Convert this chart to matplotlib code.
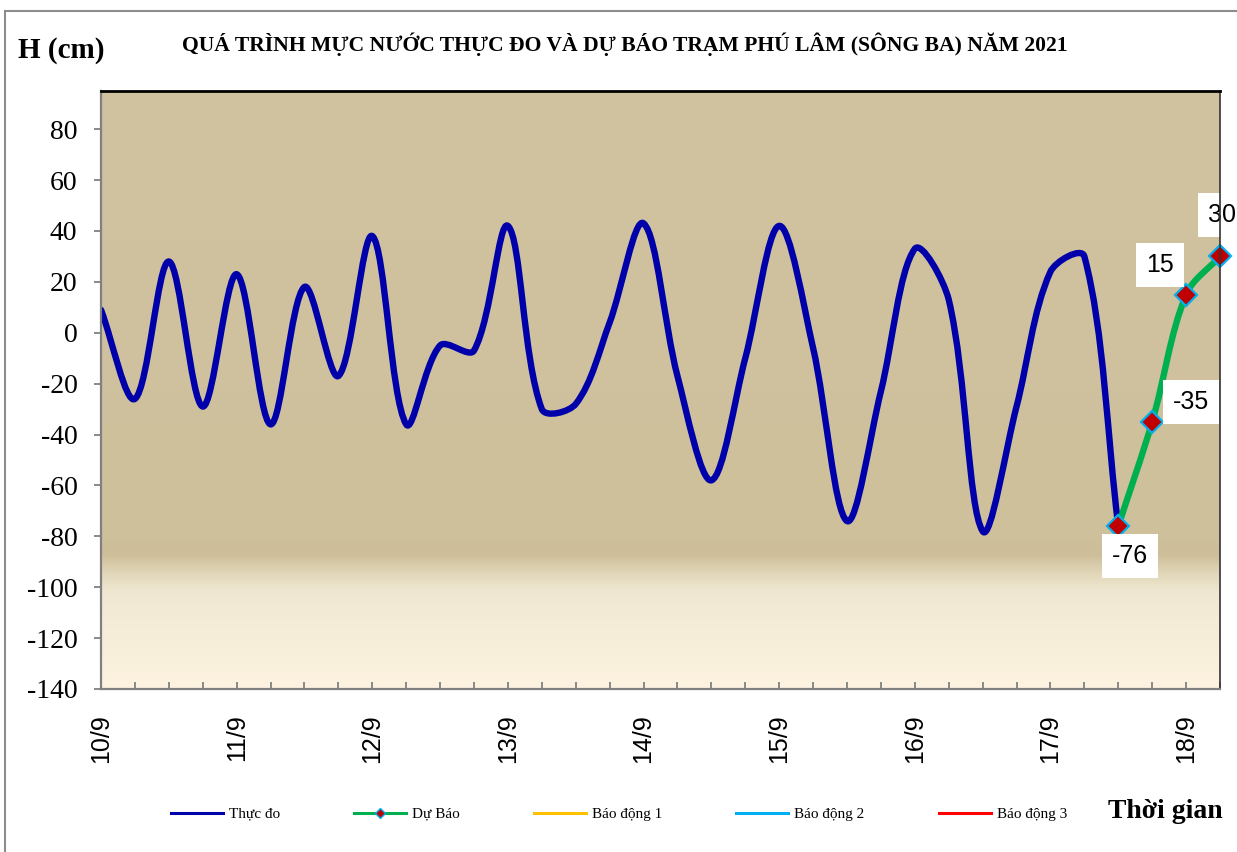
import matplotlib
matplotlib.use("Agg")
import matplotlib.pyplot as plt
import numpy as np
from matplotlib.path import Path
from matplotlib.patches import PathPatch, Rectangle
from matplotlib.lines import Line2D
from matplotlib.colors import LinearSegmentedColormap

# ---------------- data ----------------
day_labels = ["10/9", "11/9", "12/9", "13/9", "14/9", "15/9", "16/9", "17/9", "18/9"]
steps_per_day = 4  # 6-hourly values

observed = [9, -26, 28, -29, 23, -36, 18, -17,
            38, -36, -5, -7, 42, -30, -28, 4,
            43, -17, -58, -10, 42, -6, -74, -23,
            33, 13, -78, -29, 24, 30, -76]
forecast = [-76, -35, 15, 30]
forecast_start = 30

title = "QUÁ TRÌNH MỰC NƯỚC THỰC ĐO VÀ DỰ BÁO TRẠM PHÚ LÂM (SÔNG BA) NĂM 2021"
series_names = ["Thực đo", "Dự Báo", "Báo động 1", "Báo động 2", "Báo động 3"]

# ---------------- helpers ----------------
def smooth_path(ax, xs, ys):
    """Spreadsheet-style smoothed line: cubic Bezier segments through the
    points, tangents weighted by the on-screen chord lengths."""
    pts = ax.transData.transform(np.column_stack([xs, ys]).astype(float))
    n = len(pts)
    out_c, in_c = [], []
    for i in range(n):
        prev = pts[max(i - 1, 0)]
        nxt = pts[min(i + 1, n - 1)]
        l1 = np.hypot(*(pts[i] - prev))
        l2 = np.hypot(*(nxt - pts[i]))
        d = nxt - prev
        s = l1 + l2 if (l1 + l2) > 0 else 1.0
        out_c.append(pts[i] + d * (l2 / s) / 3.0)
        in_c.append(pts[i] - d * (l1 / s) / 3.0)
    verts = [pts[0]]
    codes = [Path.MOVETO]
    for i in range(n - 1):
        verts += [out_c[i], in_c[i + 1], pts[i + 1]]
        codes += [Path.CURVE4] * 3
    verts = ax.transData.inverted().transform(np.array(verts))
    return Path(verts, codes)

# ---------------- figure ----------------
W, H = 1237, 852
fig = plt.figure(figsize=(W / 100, H / 100), dpi=100)
fig.patch.set_facecolor("white")

# outer chart border
fig.patches.append(Rectangle((5 / W, -0.1), 1.2, 1 - 11 / H + 0.1,
                             transform=fig.transFigure, fill=False,
                             edgecolor="#8c8c8c", lw=1.5, clip_on=False))

L, R, T, B = 101, 1220, 91, 689
ax = fig.add_axes([L / W, 1 - B / H, (R - L) / W, (B - T) / H])

ymin, ymax = -140, 95
n_total = forecast_start + len(forecast) - 1
ax.set_xlim(0, n_total)
ax.set_ylim(ymin, ymax)

# gradient background
stops = [(0.0, "#FDF3E0"), (0.115, "#F4ECD7"), (0.162, "#EFE7D1"),
         (0.191, "#E2D7BA"), (0.224, "#CDBE99"), (0.249, "#CFC09C"),
         (1.0, "#D1C3A0")]
cmap = LinearSegmentedColormap.from_list("bg", stops)
grad = np.linspace(0, 1, 512).reshape(-1, 1)
ax.imshow(grad, aspect="auto", cmap=cmap, origin="lower",
          extent=[0, 1, 0, 1], transform=ax.transAxes, zorder=0)
ax.set_xlim(0, n_total)
ax.set_ylim(ymin, ymax)

# observed line
x_obs = np.arange(len(observed))
ax.add_patch(PathPatch(smooth_path(ax, x_obs, observed), fill=False,
                       edgecolor="#0000AA", lw=4.6, capstyle="round",
                       joinstyle="round", zorder=3))

# forecast line
x_fc = np.arange(forecast_start, forecast_start + len(forecast))
ax.add_patch(PathPatch(smooth_path(ax, x_fc, forecast), fill=False,
                       edgecolor="#00B050", lw=4.6, capstyle="round",
                       joinstyle="round", zorder=4))
ax.plot(x_fc, forecast, linestyle="none", marker="D", markersize=11.5,
        markerfacecolor="#C00000", markeredgecolor="#00B0F0",
        markeredgewidth=1.6, zorder=5, clip_on=False)

# data labels
label_offsets = [(8.6, -21.5), (28, 14), (-18.7, 21.6), (1.4, 29.5)]
for xv, yv, off in zip(x_fc, forecast, label_offsets):
    ax.annotate(f"{yv}", (xv, yv), xytext=off, textcoords="offset points",
                ha="center", va="center", fontsize=18,
                family="Liberation Sans", color="black", zorder=6,
                bbox=dict(boxstyle="square,pad=0.4", fc="white", ec="none"),
                annotation_clip=False)

# axes styling
for side in ["left", "bottom"]:
    ax.spines[side].set_color("#808080")
    ax.spines[side].set_linewidth(1.6)
ax.spines["top"].set_color("black")
ax.spines["top"].set_linewidth(2.0)
ax.spines["right"].set_color("#333333")
ax.spines["right"].set_linewidth(1.2)
for s in ax.spines.values():
    s.set_zorder(7)

ax.set_yticks(np.arange(-140, 81, 20))
ax.set_yticklabels([str(v) for v in range(-140, 81, 20)],
                   family="Liberation Serif", fontsize=20)
ax.tick_params(axis="y", direction="out", length=5, width=1.3,
               color="#808080", pad=12)

major_x = np.arange(0, len(day_labels)) * steps_per_day
ax.set_xticks(major_x)
ax.set_xticklabels(day_labels, rotation=90, family="Liberation Sans",
                   fontsize=18, va="top", ha="center")
ax.set_xticks(np.arange(0, n_total + 1), minor=True)
ax.tick_params(axis="x", which="both", direction="in", length=5,
               width=1.3, color="#808080", pad=18)

# titles
fig.text(625 / W, 1 - 44 / H, title, ha="center", va="center",
         family="Liberation Serif", fontweight="bold", fontsize=15.6)
fig.text(18 / W, 1 - 50 / H, "H (cm)", ha="left", va="center",
         family="Liberation Serif", fontweight="bold", fontsize=21)
fig.text(1165 / W, 1 - 812 / H, "Thời gian", ha="center", va="center",
         family="Liberation Serif", fontweight="bold", fontsize=20)

# legend
handles = [
    Line2D([], [], color="#0000AA", lw=2.2),
    Line2D([], [], color="#00B050", lw=2.2, marker="D", markersize=5,
           markerfacecolor="#C00000", markeredgecolor="#00B0F0",
           markeredgewidth=1.0),
    Line2D([], [], color="#FFC000", lw=2.2),
    Line2D([], [], color="#00B0F0", lw=2.2),
    Line2D([], [], color="#FF0000", lw=2.2),
]
fig.legend(handles, series_names, loc="center", ncol=5,
           bbox_to_anchor=(619 / W, 1 - 814 / H), frameon=False,
           prop={"family": "Liberation Serif", "size": 11},
           handlelength=3.4, columnspacing=4.85, handletextpad=0.4)

fig.savefig("out.png", dpi=100)
